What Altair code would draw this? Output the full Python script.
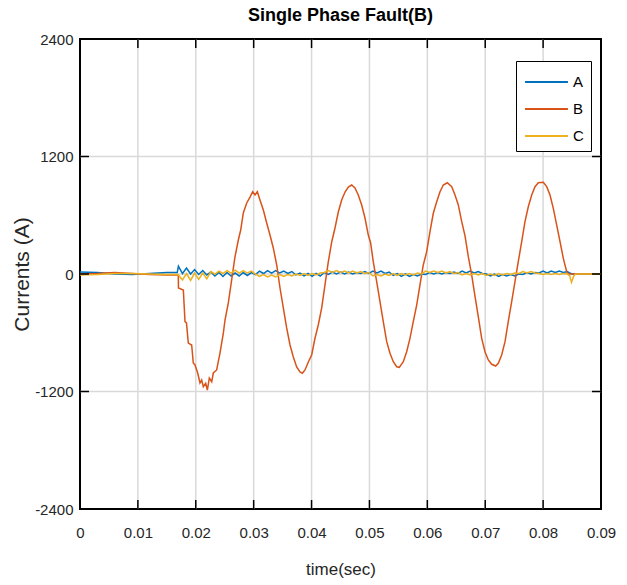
import altair as alt
import pandas as pd

FONT = "Liberation Sans, Arial, sans-serif"

x_ticks = [0, 0.01, 0.02, 0.03, 0.04, 0.05, 0.06, 0.07, 0.08, 0.09]
y_ticks = [-2400, -1200, 0, 1200, 2400]
x_grid = [0.01, 0.02, 0.03, 0.04, 0.05, 0.06, 0.07, 0.08]
y_grid = [-1200, 0, 1200]
y_inner_ticks = [-1200, 0, 1200]

phases = ["A", "B", "C"]
colors = ["#0072BD", "#D95319", "#EDB120"]

# (time, current) pairs
a_pts = [
    (0.0, 20), (0.003, 15), (0.006, 0), (0.009, -5), (0.012, 5), (0.015, 15), (0.0168, 15),
    (0.0170, 80), (0.0177, 5), (0.0184, 60), (0.0191, 0), (0.0198, 45), (0.0205, -5), (0.0212, 35), (0.0219, -10),
    (0.0226, 20), (0.0233, -20), (0.0240, 15), (0.0247, -25), (0.0254, 15), (0.0261, -20), (0.0268, 10),
    (0.0275, -20), (0.0282, 15), (0.0289, -15), (0.0296, 15),
    (0.0303, -5), (0.0310, 30), (0.0317, 5), (0.0324, 35), (0.0331, 10), (0.0338, 35), (0.0345, 10),
    (0.0352, 30), (0.0359, 5), (0.0366, 25),
    (0.0373, -10), (0.0380, 10), (0.0387, -20), (0.0394, 5), (0.0401, -25), (0.0408, 5), (0.0415, -20),
    (0.0422, 15), (0.0429, -5), (0.0436, 20), (0.0443, 0), (0.0450, 20), (0.0457, 0), (0.0464, 20),
    (0.0471, 0), (0.0478, 15), (0.0485, 5), (0.0492, 25), (0.0499, 5),
    (0.0506, 30), (0.0513, 10), (0.0520, 30), (0.0527, 5), (0.0534, 20),
    (0.0541, -15), (0.0548, 5), (0.0555, -25), (0.0562, 0), (0.0569, -25), (0.0576, -5), (0.0583, -20), (0.0590, 0),
    (0.0597, -5), (0.0604, 15), (0.0611, 0), (0.0618, 15), (0.0625, 0), (0.0632, 15), (0.0639, 5),
    (0.0646, 20), (0.0653, 5),
    (0.0660, 30), (0.0667, 10), (0.0674, 30), (0.0681, 10), (0.0688, 25), (0.0695, 5),
    (0.0702, 0), (0.0709, -20), (0.0716, 0), (0.0723, -25), (0.0730, -5), (0.0737, -20), (0.0744, -5),
    (0.0751, -20), (0.0758, 0),
    (0.0765, -5), (0.0772, 15), (0.0779, 0), (0.0786, 15),
    (0.0793, 10), (0.0800, 30), (0.0807, 10), (0.0814, 30), (0.0821, 15), (0.0828, 30), (0.0835, 15), (0.0842, 25),
    (0.0846, 10), (0.0850, 0), (0.0900, 0),
]

b_pts = [
    (0.0, 0), (0.003, 5), (0.006, 15), (0.009, 5), (0.012, -5), (0.015, -10), (0.0169, -10),
    (0.01698, -10), (0.01701, -143), (0.01785, -163), (0.01814, -487), (0.01839, -500), (0.01871, -705),
    (0.01929, -725), (0.01957, -909), (0.01987, -929), (0.02033, -1011), (0.02073, -1113), (0.02102, -1083),
    (0.0213, -1151), (0.02171, -1116), (0.0220, -1185), (0.02234, -1062), (0.02275, -1100), (0.02303, -1011),
    (0.02361, -980), (0.02418, -807), (0.02476, -603), (0.02505, -470), (0.02562, -296), (0.0262, -61),
    (0.02677, 174), (0.02735, 347), (0.02776, 449), (0.02821, 623), (0.0288, 725), (0.02937, 786),
    (0.02983, 841), (0.03023, 807), (0.03063, 841), (0.03109, 756), (0.03167, 654), (0.03225, 521),
    (0.03282, 398), (0.03339, 266), (0.03398, 92), (0.03455, -143), (0.03512, -347), (0.0357, -551),
    (0.03628, -725), (0.03685, -848), (0.03743, -950), (0.038, -1001), (0.0384, -1014), (0.03887, -980),
    (0.03944, -899), (0.04002, -827), (0.0406, -654), (0.04116, -521), (0.04175, -347), (0.04232, -112),
    (0.04289, 123), (0.04348, 327), (0.04405, 470), (0.04462, 633), (0.0452, 756), (0.04578, 837),
    (0.04635, 888), (0.04693, 909), (0.0475, 878), (0.04807, 807), (0.04866, 705), (0.04923, 572),
    (0.0498, 398), (0.0502, 320), (0.05066, 126), (0.05125, -79), (0.05182, -283), (0.05239, -487),
    (0.05298, -691), (0.05355, -810), (0.05412, -896), (0.05471, -947), (0.05516, -953), (0.05585, -896),
    (0.05643, -794), (0.057, -657), (0.05757, -487), (0.05816, -317), (0.05873, -112), (0.0593, 92),
    (0.05989, 228), (0.06046, 432), (0.06103, 620), (0.06162, 738), (0.06219, 840), (0.06276, 909),
    (0.06345, 932), (0.06421, 892), (0.06478, 807), (0.06535, 705), (0.06594, 534), (0.06651, 390),
    (0.06708, 177), (0.06766, -10), (0.06823, -225), (0.0688, -436), (0.06939, -657), (0.06996, -794),
    (0.07053, -878), (0.07112, -922), (0.07181, -940), (0.07226, -912), (0.07284, -827), (0.07342, -691),
    (0.07398, -487), (0.07457, -283), (0.07514, -79), (0.07571, 126), (0.0763, 330), (0.07687, 534),
    (0.07744, 687), (0.07803, 807), (0.0786, 892), (0.07917, 932), (0.08003, 936), (0.08062, 892),
    (0.08119, 807), (0.08176, 671), (0.08235, 500), (0.08292, 330), (0.08349, 160), (0.08407, 23),
    (0.08435, 3), (0.0846, 0), (0.0900, 0),
]

c_pts = [
    (0.0, -10), (0.003, -5), (0.006, 5), (0.009, 5), (0.012, 0), (0.015, -5), (0.0168, -5),
    (0.0170, -10), (0.0177, -60), (0.0184, 5), (0.0191, -65), (0.0198, 10), (0.0205, -55), (0.0212, 10), (0.0219, -50),
    (0.0226, 25), (0.0233, 0), (0.0240, 30), (0.0247, 5), (0.0254, 35), (0.0261, 10), (0.0268, 40),
    (0.0275, 10), (0.0282, 35), (0.0289, 10), (0.0296, 30),
    (0.0303, 0), (0.0310, -25), (0.0317, -5), (0.0324, -30), (0.0331, -10), (0.0338, -30), (0.0345, -5),
    (0.0352, -25), (0.0359, -5), (0.0366, -20),
    (0.0373, 0), (0.0380, -15), (0.0387, 5), (0.0394, -15), (0.0401, 5), (0.0408, -10), (0.0415, 10),
    (0.0422, 15), (0.0429, 35), (0.0436, 15), (0.0443, 35), (0.0450, 15), (0.0457, 30), (0.0464, 10),
    (0.0471, 30), (0.0478, 10), (0.0485, 25), (0.0492, 5), (0.0499, 15),
    (0.0506, -20), (0.0513, -5), (0.0520, -20), (0.0527, 0), (0.0534, -15),
    (0.0541, 5), (0.0548, -15), (0.0555, 5), (0.0562, -10), (0.0569, 5), (0.0576, -10), (0.0583, 10), (0.0590, 0),
    (0.0597, 30), (0.0604, 15), (0.0611, 30), (0.0618, 15), (0.0625, 30), (0.0632, 10), (0.0639, 25),
    (0.0646, 5), (0.0653, 15),
    (0.0660, -10), (0.0667, 5), (0.0674, -10), (0.0681, 5), (0.0688, -10), (0.0695, 5),
    (0.0702, -15), (0.0709, 0), (0.0716, -15), (0.0723, 5), (0.0730, -10), (0.0737, 5), (0.0744, -5),
    (0.0751, 10), (0.0758, 5),
    (0.0765, 25), (0.0772, 10), (0.0779, 25), (0.0786, 10),
    (0.0793, 5), (0.0800, -5), (0.0807, 5), (0.0814, -5), (0.0821, 5), (0.0828, -5), (0.0835, 5), (0.0842, 0),
    (0.0846, -20), (0.0849, -85), (0.0853, -20), (0.0856, 0), (0.0900, 0),
]

rows = []
for name, pts in zip(phases, [a_pts, b_pts, c_pts]):
    for t, v in pts:
        rows.append({"t": t, "I": v, "phase": name})
df = pd.DataFrame(rows)

W, H = 521, 470
x_scale = alt.Scale(domain=[0, 0.09], nice=False, zero=False)
y_scale = alt.Scale(domain=[-2400, 2400], nice=False)
XT = "time(sec)"
YT = "Currents (A)"

x_axis = alt.Axis(
    values=x_ticks, title=XT, grid=False, ticks=False, tickSize=0, domain=False,
    labelExpr="datum.value == 0 ? '0' : format(datum.value, '.2f')",
    labelFont=FONT, labelFontSize=15, labelColor="#262626", labelPadding=16,
    titleFont=FONT, titleFontSize=17, titleFontWeight="normal", titleColor="#262626", titlePadding=21,
    labelFlush=False, labelOverlap=False,
)
y_axis = alt.Axis(
    values=y_ticks, title=YT, grid=False, ticks=False, tickSize=0, domain=False,
    labelExpr="'' + datum.value",
    labelFont=FONT, labelFontSize=15, labelColor="#262626", labelPadding=7,
    titleFont=FONT, titleFontSize=21, titleFontWeight="normal", titleColor="#262626", titlePadding=2,
    labelFlush=False, labelOverlap=False,
)

gx = alt.Chart(pd.DataFrame({"t": x_grid})).mark_rule(color="#d9d9d9", strokeWidth=1.5).encode(
    x=alt.X("t:Q", scale=x_scale, axis=x_axis, title=XT)
)
gy = alt.Chart(pd.DataFrame({"I": y_grid})).mark_rule(color="#d9d9d9", strokeWidth=1.5).encode(
    y=alt.Y("I:Q", scale=y_scale, axis=y_axis, title=YT)
)

lines = alt.Chart(df).mark_line(strokeWidth=1.5, clip=True).encode(
    x=alt.X("t:Q", scale=x_scale, axis=x_axis, title=XT),
    y=alt.Y("I:Q", scale=y_scale, axis=y_axis, title=YT),
    color=alt.Color(
        "phase:N",
        scale=alt.Scale(domain=phases, range=colors),
        legend=alt.Legend(
            title=None, orient="none", legendX=436, legendY=22,
            symbolType="M-0.92,0H2.38", symbolSize=676, symbolStrokeWidth=2,
            labelFont=FONT, labelFontSize=15, labelColor="black", labelOffset=22,
            padding=7, rowPadding=5, strokeColor="black", fillColor="white",
        ),
    ),
)

xt_df = pd.DataFrame({"t": x_ticks})
yt_df = pd.DataFrame({"I": y_inner_ticks})
tick_bottom = alt.Chart(xt_df).mark_rule(color="black", strokeWidth=1.5).encode(
    x=alt.X("t:Q", scale=x_scale, axis=x_axis, title=XT), y=alt.value(H), y2=alt.value(H - 9)
)
tick_top = alt.Chart(xt_df).mark_rule(color="black", strokeWidth=1.5).encode(
    x=alt.X("t:Q", scale=x_scale, axis=x_axis, title=XT), y=alt.value(0), y2=alt.value(9)
)
tick_left = alt.Chart(yt_df).mark_rule(color="black", strokeWidth=1.5).encode(
    y=alt.Y("I:Q", scale=y_scale, axis=y_axis, title=YT), x=alt.value(0), x2=alt.value(9)
)
tick_right = alt.Chart(yt_df).mark_rule(color="black", strokeWidth=1.5).encode(
    y=alt.Y("I:Q", scale=y_scale, axis=y_axis, title=YT), x=alt.value(W), x2=alt.value(W - 9)
)

chart = alt.layer(gx, gy, lines, tick_bottom, tick_top, tick_left, tick_right).properties(
    width=W, height=H,
    title=alt.TitleParams(
        "Single Phase Fault(B)", font=FONT, fontSize=18, fontWeight="bold", color="black",
        anchor="middle", offset=7,
    ),
    autosize=alt.AutoSizeParams(type="none"),
    padding={"left": 80, "top": 39, "right": 26, "bottom": 76},
    background="white",
).configure_view(stroke="black", strokeWidth=2)

chart.save("out.html", embed_options={"renderer": "svg", "actions": False})
